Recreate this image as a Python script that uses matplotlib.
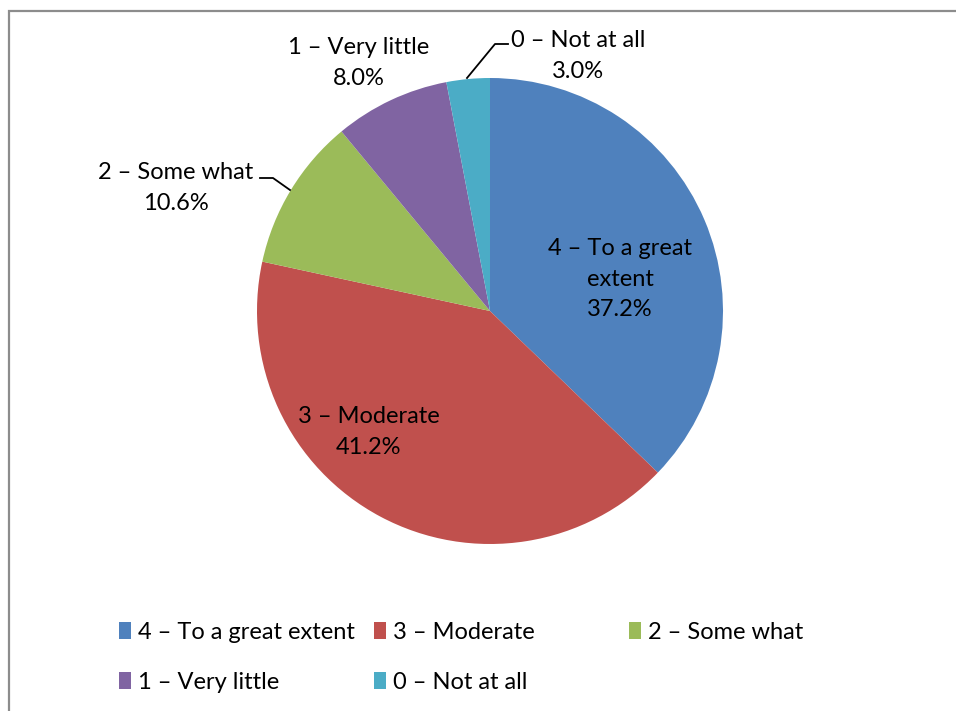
import matplotlib.pyplot as plt
from matplotlib.patches import Patch

labels = ["4 – To a great extent", "3 – Moderate", "2 – Some what",
          "1 – Very little", "0 – Not at all"]
values = [37.2, 41.2, 10.6, 8.0, 3.0]
colors = ["#4F81BD", "#C0504D", "#9BBB59", "#8064A2", "#4BACC6"]

# label text as drawn on the chart (first one wraps)
slice_text = ["4 – To a great\nextent", "3 – Moderate", "2 – Some what",
              "1 – Very little", "0 – Not at all"]

W, H = 956, 711
FONT = "Lato"
FS = 17

fig = plt.figure(figsize=(W / 100, H / 100), dpi=100)
ax = fig.add_axes([0, 0, 1, 1])

ax.pie(values, colors=colors, startangle=90, counterclock=False,
       center=(490, H - 311), radius=233,
       wedgeprops=dict(linewidth=0))
ax.set_xlim(0, W)
ax.set_ylim(0, H)
ax.set_aspect("auto")
ax.axis("off")

# outer border (chart area frame, cut off at right/bottom)
ax.plot([9.5, 9.5, W], [0, H - 10.5, H - 10.5], color="#8c8c8c", lw=1.6,
        solid_joinstyle="miter")

# data label positions (pixel coords from top-left)
label_pos = [(620, 279), (369, 432), (176, 188), (359, 63), (578, 56)]
for txt, v, (x, y) in zip(slice_text, values, label_pos):
    ax.text(x, H - y, f"{txt}\n{v:.1f}%", ha="center", va="center",
            fontsize=FS, family=FONT, color="black", linespacing=1.55)

# leader lines
ax.plot([260, 273, 290], [H - 178, H - 178, H - 190], color="black", lw=1.3)
ax.plot([508, 495, 467], [H - 44, H - 44, H - 78], color="black", lw=1.3)

# legend laid out in three columns like the original
cols = [([0, 3], 119), ([1, 4], 374), ([2], 629)]
for idx, x0 in cols:
    handles = [Patch(facecolor=colors[i], edgecolor="none", label=labels[i])
               for i in idx]
    fig.legend(handles=handles, loc="upper left",
               bbox_to_anchor=(x0 / W, 1 - 622 / H), frameon=False,
               prop=dict(family=FONT, size=FS), handlelength=0.5,
               handleheight=0.75, handletextpad=0.3, labelspacing=1.22,
               borderpad=0, borderaxespad=0)

fig.savefig("out.png", dpi=100)
